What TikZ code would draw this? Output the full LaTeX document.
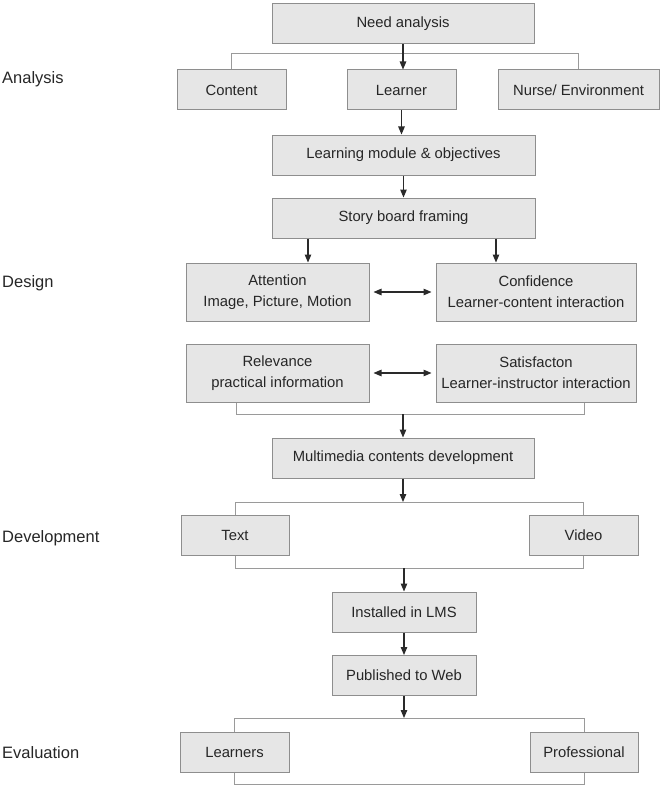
\documentclass[tikz,border=0pt]{standalone}
\usepackage{fontspec}
\setmainfont{Liberation Sans}
\usetikzlibrary{arrows.meta,calc}
\definecolor{boxgray}{HTML}{E6E6E6}
\definecolor{bordergray}{HTML}{8E8E8E}
\definecolor{linegray}{HTML}{9A9A9A}
\definecolor{txt}{HTML}{262626}
\definecolor{arrcol}{HTML}{2A2A2A}
\newcommand\boxfnt{\fontsize{14.8}{21}\selectfont}
\newcommand\labfnt{\fontsize{16.5}{20}\selectfont}
\begin{document}
\begin{tikzpicture}[x=1pt,y=-1pt,
  box/.style={rectangle,draw=bordergray,fill=boxgray,line width=1pt,inner sep=0pt,
    text=txt,font=\boxfnt,align=center,minimum height=40pt},
  lab/.style={anchor=base west,inner sep=0pt,text=txt,font=\labfnt},
  arr/.style={draw=arrcol,line width=1.1pt,-{Triangle[length=8pt,width=6.5pt]}},
  darr/.style={draw=arrcol,line width=1.1pt,{Triangle[length=8pt,width=6.5pt]}-{Triangle[length=8pt,width=6.5pt]},shorten <=4pt,shorten >=4pt},
  branch/.style={draw=linegray,line width=1pt}]
\useasboundingbox (0,0) rectangle (662,789);

% left labels
\node[lab] (lA) at (2,84) {Analysis};
\node[lab] (lD) at (2,287) {Design};
\node[lab] (lDev) at (2,542) {Development};
\node[lab] (lE) at (2,758) {Evaluation};

% boxes
\node[box,minimum width=262pt] (need) at (403,24) {Need analysis};
\node[box,minimum width=109pt] (content) at (231.5,90) {Content};
\node[box,minimum width=109pt] (learner) at (401.5,90) {Learner};
\node[box,minimum width=161pt] (nurse) at (578.5,90) {Nurse/ Environment};
\node[box,minimum width=263pt] (module) at (403.5,155) {Learning module \& objectives};
\node[box,minimum width=263pt] (story) at (403.5,218) {Story board framing};
\node[box,minimum width=183pt,minimum height=58pt] (att) at (277.5,292) {Attention\\Image, Picture, Motion};
\node[box,minimum width=200pt,minimum height=58pt] (conf) at (536,292) {Confidence\\Learner-content interaction};
\node[box,minimum width=183pt,minimum height=58pt] (rel) at (277.5,373) {Relevance\\practical information};
\node[box,minimum width=200pt,minimum height=58pt] (sat) at (536,373) {Satisfacton\\Learner-instructor interaction};
\node[box,minimum width=262pt] (multi) at (403,458) {Multimedia contents development};
\node[box,minimum width=108pt] (text) at (235,535) {Text};
\node[box,minimum width=109pt] (video) at (583.5,535) {Video};
\node[box,minimum width=144pt] (lms) at (404,612) {Installed in LMS};
\node[box,minimum width=144pt] (pub) at (404,675.5) {Published to Web};
\node[box,minimum width=109pt] (learners) at (234.5,752) {Learners};
\node[box,minimum width=108pt] (prof) at (584,752) {Professional};

% helper coordinates
\coordinate (ya) at (0,54);
\coordinate (xs1) at (308,0);
\coordinate (xs2) at (496,0);
\coordinate (xm1) at (236,0);
\coordinate (xm2) at (584,0);
\coordinate (ym) at (0,414);
\coordinate (yd1) at (0,502);
\coordinate (yd2) at (0,568);
\coordinate (ye) at (0,718);

% analysis
\draw[branch] (content.north) -- (content.north |- ya) -- (nurse.north |- ya) -- (nurse.north);
\draw[arr] (need.south) -- (need.south |- learner.north);
\draw[arr] (learner.south) -- (learner.south |- module.north);
\draw[arr] (module.south) -- (module.south |- story.north);

% design
\draw[arr] (story.south -| xs1) -- (att.north -| xs1);
\draw[arr] (story.south -| xs2) -- (conf.north -| xs2);
\draw[darr] (att.east) -- (conf.west);
\draw[darr] (rel.east) -- (sat.west);
\draw[branch] (rel.south -| xm1) -- (ym -| xm1) -- (ym -| xm2) -- (sat.south -| xm2);
\draw[arr] (multi.north |- ym) -- (multi.north);

% development
\draw[arr] (multi.south) -- (multi.south |- yd1);
\draw[branch] (text.north) -- (text.north |- yd1) -- (video.north |- yd1) -- (video.north);
\draw[branch] (text.south) -- (text.south |- yd2) -- (video.south |- yd2) -- (video.south);
\draw[arr] (lms.north |- yd2) -- (lms.north);
\draw[arr] (lms.south) -- (pub.north);

% evaluation
\draw[arr] (pub.south) -- (pub.south |- ye);
\draw[branch] (learners.north) -- (learners.north |- ye) -- (prof.north |- ye) -- (prof.north);
\draw[branch] (learners.south) -- ++(0,12) -| (prof.south);
\end{tikzpicture}
\end{document}
